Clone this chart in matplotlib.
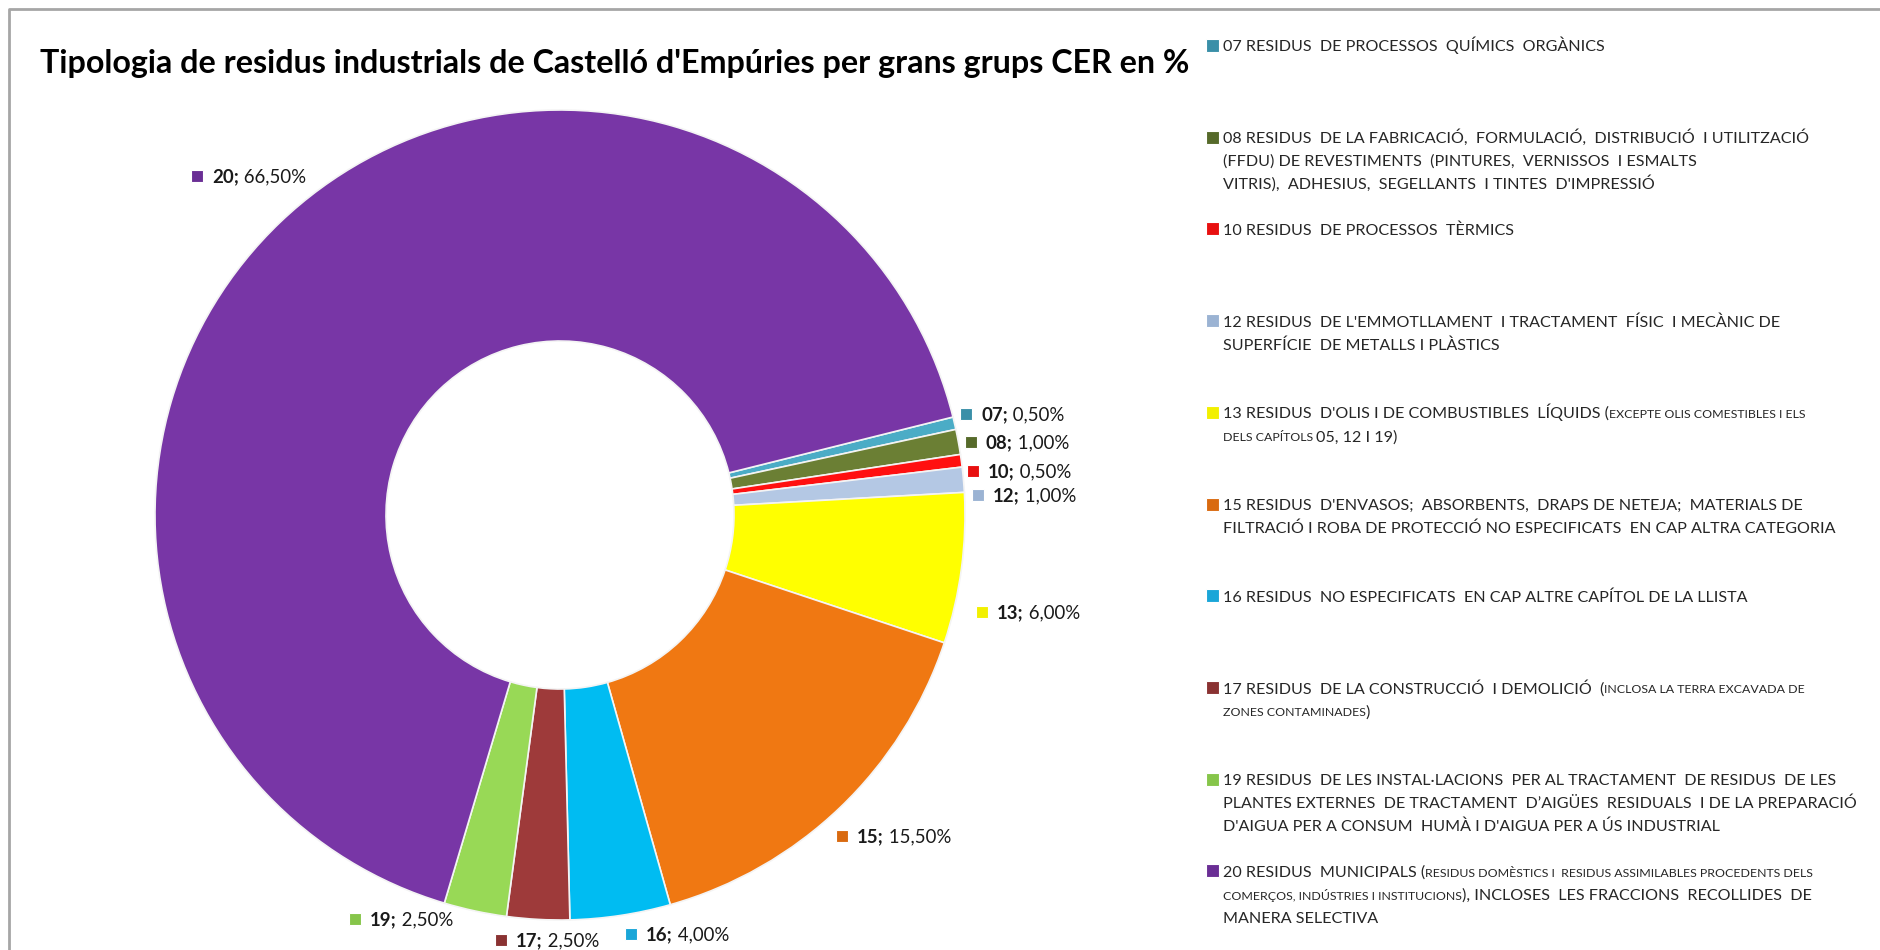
import matplotlib
matplotlib.use("Agg")
import matplotlib.pyplot as plt
from matplotlib.patches import Rectangle

# Dades del grafic
codes = ["07", "08", "10", "12", "13", "15", "16", "17", "19", "20"]
values = [0.5, 1.0, 0.5, 1.0, 6.0, 15.5, 4.0, 2.5, 2.5, 66.5]
colors = ["#4BACC6", "#6B7F34", "#FF1010", "#B4C8E4", "#FFFF00",
          "#F07812", "#00BCF2", "#9E3A3A", "#98D956", "#7836A6"]
marker_colors = ["#3A8FA8", "#566A2A", "#E81010", "#9BB3D3", "#F2F000",
                 "#D96A10", "#1AA6D8", "#8A3232", "#86C54A", "#6A2E95"]

TITLE = "Tipologia de residus industrials de Castelló d'Empúries per grans grups CER en %"

# legend text: per entry a list of lines, each line a list of (text, small?)
legend_lines = [
    [[("07 RESIDUS  DE PROCESSOS  QUÍMICS  ORGÀNICS", False)]],
    [[("08 RESIDUS  DE LA FABRICACIÓ,  FORMULACIÓ,  DISTRIBUCIÓ  I UTILITZACIÓ", False)],
     [("(FFDU) DE REVESTIMENTS  (PINTURES,  VERNISSOS  I ESMALTS", False)],
     [("VITRIS),  ADHESIUS,  SEGELLANTS  I TINTES  D'IMPRESSIÓ", False)]],
    [[("10 RESIDUS  DE PROCESSOS  TÈRMICS", False)]],
    [[("12 RESIDUS  DE L'EMMOTLLAMENT  I TRACTAMENT  FÍSIC  I MECÀNIC DE", False)],
     [("SUPERFÍCIE  DE METALLS I PLÀSTICS", False)]],
    [[("13 RESIDUS  D'OLIS I DE COMBUSTIBLES  LÍQUIDS (", False),
      ("EXCEPTE OLIS COMESTIBLES I ELS", True)],
     [("DELS CAPÍTOLS ", True), ("05, 12 I 19)", False)]],
    [[("15 RESIDUS  D'ENVASOS;  ABSORBENTS,  DRAPS DE NETEJA;  MATERIALS DE", False)],
     [("FILTRACIÓ I ROBA DE PROTECCIÓ NO ESPECIFICATS  EN CAP ALTRA CATEGORIA", False)]],
    [[("16 RESIDUS  NO ESPECIFICATS  EN CAP ALTRE CAPÍTOL DE LA LLISTA", False)]],
    [[("17 RESIDUS  DE LA CONSTRUCCIÓ  I DEMOLICIÓ  (", False),
      ("INCLOSA LA TERRA EXCAVADA DE", True)],
     [("ZONES CONTAMINADES", True), (")", False)]],
    [[("19 RESIDUS  DE LES INSTAL·LACIONS  PER AL TRACTAMENT  DE RESIDUS  DE LES", False)],
     [("PLANTES EXTERNES  DE TRACTAMENT  D’AIGÜES  RESIDUALS  I DE LA PREPARACIÓ", False)],
     [("D'AIGUA PER A CONSUM  HUMÀ I D'AIGUA PER A ÚS INDUSTRIAL", False)]],
    [[("20 RESIDUS  MUNICIPALS (", False),
      ("RESIDUS DOMÈSTICS I  RESIDUS ASSIMILABLES PROCEDENTS DELS", True)],
     [("COMERÇOS, INDÚSTRIES I INSTITUCIONS", True),
      ("), INCLOSES  LES FRACCIONS  RECOLLIDES  DE", False)],
     [("MANERA SELECTIVA", False)]],
]

# Layout (pixel positions, y measured from the top)
W, H = 1880, 950
CENTER = (560, 515)
RADIUS = 405
HOLE = 174
START = 14
label_pos = [(966, 414), (971, 442), (973, 471), (978, 495), (982, 612),
             (842, 836), (631, 934), (501, 940), (355, 919), (197, 176)]
LEG_X = 1213
LEG_Y0 = 46
LEG_STEP = 91.7
LINE_H = 23

FONT = ["Liberation Sans Narrow", "Lato", "DejaVu Sans"]
plt.rcParams["font.family"] = FONT

fig = plt.figure(figsize=(W / 100, H / 100), dpi=100)
ax = fig.add_axes([0, 0, 1, 1])


def Y(y):
    return H - y


ax.pie(values, colors=colors, startangle=START, counterclock=False,
       radius=RADIUS, center=(CENTER[0], Y(CENTER[1])),
       wedgeprops=dict(width=RADIUS - HOLE, edgecolor="#f4f4f4", linewidth=1.2))
ax.set_xlim(0, W)
ax.set_ylim(0, H)
ax.set_aspect("auto")
ax.axis("off")

# chart frame
ax.plot([9, 9, W + 5], [-5, Y(9), Y(9)], color="#a6a6a6", lw=2, solid_capstyle="butt")

renderer = fig.canvas.get_renderer()


def draw_runs(x, y, runs, color="#262626"):
    # runs: (text, size, weight)
    for txt, size, weight in runs:
        t = ax.text(x, y, txt, fontsize=size, fontweight=weight, color=color,
                    va="baseline", ha="left")
        bb = t.get_window_extent(renderer=renderer)
        x = bb.x1
    return x


ax.text(40, Y(73), TITLE, fontsize=23.2, fontweight="bold", color="#000000",
        va="baseline", ha="left")

# data labels
for code, val, (mx, my), mc in zip(codes, values, label_pos, marker_colors):
    ax.add_patch(Rectangle((mx - 6, Y(my) - 6), 12, 12, facecolor=mc,
                           edgecolor="#ffffff", lw=0.8))
    pct = f"{val:.2f}".replace(".", ",") + "%"
    draw_runs(mx + 15, Y(my) - 6, [(code + ";", 13.4, "bold"), (" " + pct, 13.4, "normal")],
              color="#1a1a1a")

# legend
for i, entry in enumerate(legend_lines):
    y0 = LEG_Y0 + i * LEG_STEP
    ax.add_patch(Rectangle((1206, Y(y0) - 6), 13, 13, facecolor=marker_colors[i],
                           edgecolor="#ffffff", lw=0.8))
    for j, line in enumerate(entry):
        runs = [(txt, 8.9 if small else 11.6, "normal") for txt, small in line]
        draw_runs(LEG_X + 10, Y(y0 + j * LINE_H) - 5.5, runs)

fig.savefig("out.png", dpi=100, facecolor="white")
